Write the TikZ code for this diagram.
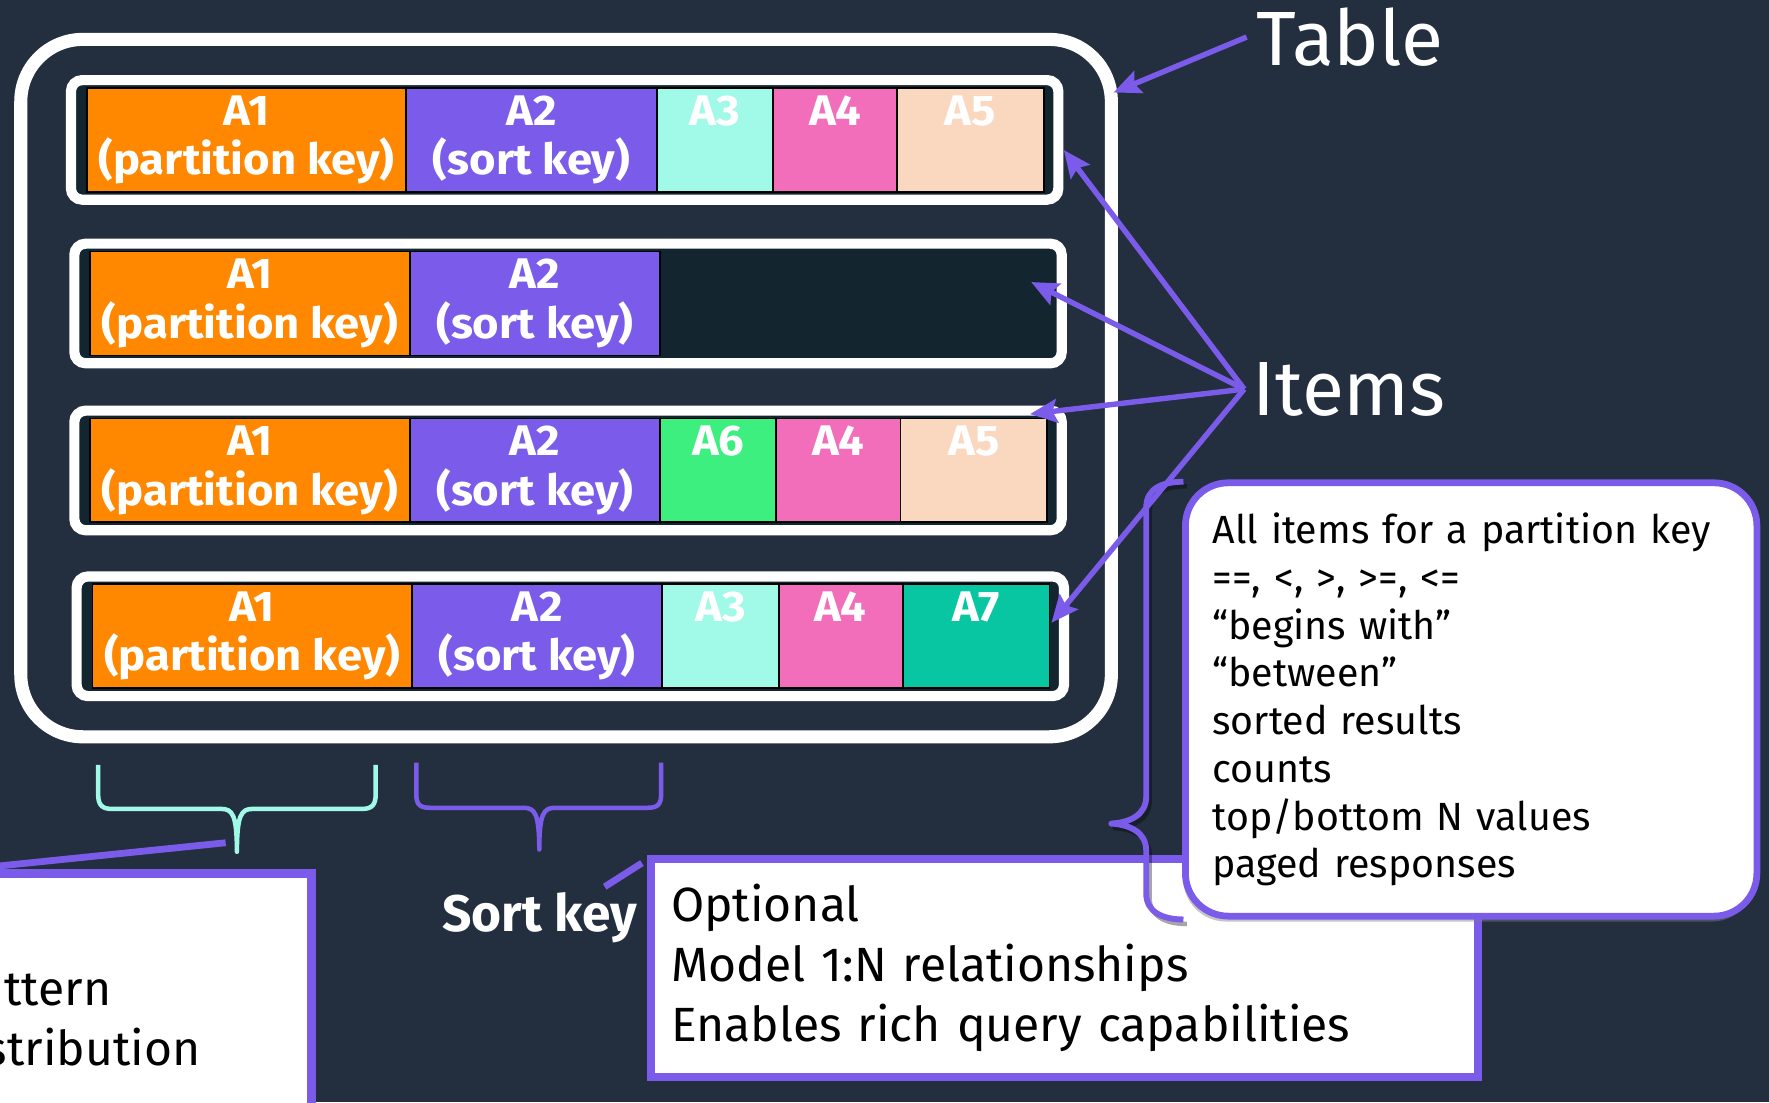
\documentclass[tikz,border=0pt]{standalone}
\usepackage{fontspec}
\setmainfont{Fira Sans}
\newfontfamily\cellfont{Fira Sans}[FakeStretch=1.06]
\usetikzlibrary{positioning,arrows.meta,shadows}
\definecolor{squid}{HTML}{232F3E}
\definecolor{itemdark}{HTML}{13262F}
\definecolor{keyorange}{HTML}{FF8800}
\definecolor{keypurple}{HTML}{7B5CEA}
\definecolor{attraqua}{HTML}{A1F9E7}
\definecolor{attrpink}{HTML}{F36EBA}
\definecolor{attrpeach}{HTML}{FAD7BF}
\definecolor{attrgreen}{HTML}{3CEF7E}
\definecolor{attrteal}{HTML}{08C6A2}

\begin{document}
\begin{tikzpicture}[x=0.025cm, y=-0.025cm,
  tableframe/.style={draw=white, line width=0.29cm, rounded corners=1.375cm, minimum width=24.16cm, minimum height=15.45cm, inner sep=0pt},
  itemframe/.style={draw=white, fill=itemdark, line width=0.225cm, rounded corners=0.25cm, minimum width=21.875cm, minimum height=2.65cm, inner sep=0pt},
  cell/.style={draw=black, line width=0.04cm, minimum height=2.3cm, inner sep=0pt, outer sep=0pt, text=white, align=center, font=\cellfont\bfseries\fontsize{27}{31}\selectfont},
  pk/.style={cell, fill=keyorange, minimum width=7.075cm},
  sk/.style={cell, fill=keypurple, minimum width=5.55cm},
  attrA/.style={cell, minimum width=2.575cm},
  attrB/.style={cell, minimum width=2.75cm},
  attrC/.style={cell, minimum width=3.25cm},
  bigword/.style={text=white, inner sep=0pt, font=\fontsize{48.5}{58}\selectfont},
  infobox/.style={draw=keypurple, fill=white, text=black, align=left, inner ysep=0pt},
  link/.style={keypurple, line width=0.15cm},
  arrow/.style={keypurple, line width=0.12cm, -{Stealth[length=0.6cm, width=0.52cm, inset=0.1cm]}},
  brace/.style={line width=0.1cm, line join=round}
]
\clip (0,0) rectangle (1568,977);
\fill[squid] (0,0) rectangle (1568,977);

% Table with its four items
\node[tableframe] (table) at (501.75, 344) {};

\node[itemframe] (item1) at (500.5, 124) {};
\node[pk, anchor=north west] (i1-a1) at (77, 78) {A1\\(partition key)};
\node[sk, right=0pt of i1-a1] (i1-a2) {A2\\(sort key)};
\node[attrA, fill=attraqua, right=0pt of i1-a2] (i1-a3) {A3\\\vphantom{(y)}};
\node[attrB, fill=attrpink, right=0pt of i1-a3] (i1-a4) {A4\\\vphantom{(y)}};
\node[attrC, fill=attrpeach, right=0pt of i1-a4] (i1-a5) {A5\\\vphantom{(y)}};

\node[itemframe] (item2) at (503.5, 269) {};
\node[pk, anchor=north west] (i2-a1) at (80, 223) {A1\\(partition key)};
\node[sk, right=0pt of i2-a1] (i2-a2) {A2\\(sort key)};

\node[itemframe] (item3) at (503.5, 417) {};
\node[pk, anchor=north west] (i3-a1) at (80, 371) {A1\\(partition key)};
\node[sk, right=0pt of i3-a1] (i3-a2) {A2\\(sort key)};
\node[attrA, fill=attrgreen, right=0pt of i3-a2] (i3-a6) {A6\\\vphantom{(y)}};
\node[attrB, fill=attrpink, right=0pt of i3-a6] (i3-a4) {A4\\\vphantom{(y)}};
\node[attrC, fill=attrpeach, right=0pt of i3-a4] (i3-a5) {A5\\\vphantom{(y)}};

\node[itemframe] (item4) at (505.5, 564) {};
\node[pk, anchor=north west] (i4-a1) at (82, 518) {A1\\(partition key)};
\node[sk, right=0pt of i4-a1] (i4-a2) {A2\\(sort key)};
\node[attrA, fill=attraqua, right=0pt of i4-a2] (i4-a3) {A3\\\vphantom{(y)}};
\node[attrB, fill=attrpink, right=0pt of i4-a3] (i4-a4) {A4\\\vphantom{(y)}};
\node[attrC, fill=attrteal, right=0pt of i4-a4] (i4-a7) {A7\\\vphantom{(y)}};

% Braces under the key columns
\draw[brace, attraqua] (87,678) -- (87,704) .. controls (87,713) and (90,717) .. (99,717)
  -- (196,717) .. controls (206,717) and (210,722) .. (210,755)
  .. controls (210,722) and (214,717) .. (224,717) -- (321,717)
  .. controls (330,717) and (333,713) .. (333,704) -- (333,678);
\draw[brace, keypurple] (369,676) -- (369,704) .. controls (369,713) and (372,716) .. (381,716)
  -- (464,716) .. controls (474,716) and (478,721) .. (478,753)
  .. controls (478,721) and (482,716) .. (492,716) -- (574,716)
  .. controls (583,716) and (586,713) .. (586,704) -- (586,676);

% Partition key box (cut by the page edge)
\node[infobox, line width=0.2cm, minimum width=7.4cm, minimum height=5.9cm] (pkbox) at (128, 892) {};
\node[anchor=base east, inner sep=0pt, font=\fontsize{30.3}{38}\selectfont] (pk-line1) at (99, 891) {ttern};
\node[anchor=base east, inner sep=0pt, font=\fontsize{30.3}{38}\selectfont] (pk-line2) at (178, 944) {stribution};
\coordinate (pk-tick) at (200, 747);
\draw[link] (pk-tick) -- (pkbox.north west);

% Sort key box
\node[anchor=base west, inner sep=0pt, text=white, font=\bfseries\fontsize{32.4}{38}\selectfont] (sortkey) at (392, 826) {Sort key};
\node[infobox, line width=0.18cm, minimum width=18.325cm, minimum height=4.825cm, inner xsep=0.45cm, text width=17.425cm, font=\fontsize{30.3}{38}\selectfont] (optional) at (943.5, 858)
  {Optional\\Model 1:N relationships\\Enables rich query capabilities};
\coordinate (sk-tick) at (536, 786);
\coordinate (opt-tick) at (569, 765);
\draw[link] (sk-tick) -- (opt-tick);

% Query capabilities
\node[infobox, line width=0.15cm, rounded corners=0.95cm, minimum width=12.66cm, minimum height=9.6cm, inner xsep=0.6cm, text width=11.46cm, font=\fontsize{24.8}{30.1}\selectfont,
  drop shadow={opacity=0.45, shadow xshift=-0.05cm, shadow yshift=-0.12cm}] (queries) at (1304, 620)
  {All items for a partition key\\==, <, >, >=, <=\\“begins with”\\“between”\\sorted results\\counts\\top/bottom N values\\paged responses};
\draw[brace, black, opacity=0.35, shift={(3,4)}] (1049,427) .. controls (1030,427) and (1016,433) .. (1016,450) -- (1016,706)
  .. controls (1016,722) and (1002,729) .. (985,730) .. controls (1002,731) and (1016,738) .. (1016,754)
  -- (1016,792) .. controls (1016,808) and (1030,815) .. (1049,815);
\draw[brace, keypurple, line width=0.13cm] (1049,427) .. controls (1030,427) and (1016,433) .. (1016,450) -- (1016,706)
  .. controls (1016,722) and (1002,729) .. (985,730) .. controls (1002,731) and (1016,738) .. (1016,754)
  -- (1016,792) .. controls (1016,808) and (1030,815) .. (1049,815);

% Labels and arrows
\node[bigword, anchor=base west] (table-label) at (1113, 58) {Table};
\node[bigword, anchor=base west] (items-label) at (1110, 368) {Items};
\coordinate (table-hit) at (987, 82);
\coordinate (item1-hit) at (943, 133);
\coordinate (item2-hit) at (914, 250);
\coordinate (item3-hit) at (913, 367);
\coordinate (item4-hit) at (932, 552);
\draw[arrow] ([xshift=-0.2cm]table-label.west) -- (table-hit);
\draw[arrow] ([xshift=-0.18cm]items-label.west) -- (item1-hit);
\draw[arrow] ([xshift=-0.18cm]items-label.west) -- (item2-hit);
\draw[arrow] ([xshift=-0.18cm]items-label.west) -- (item3-hit);
\draw[arrow] ([xshift=-0.18cm]items-label.west) -- (item4-hit);
\end{tikzpicture}
\end{document}
